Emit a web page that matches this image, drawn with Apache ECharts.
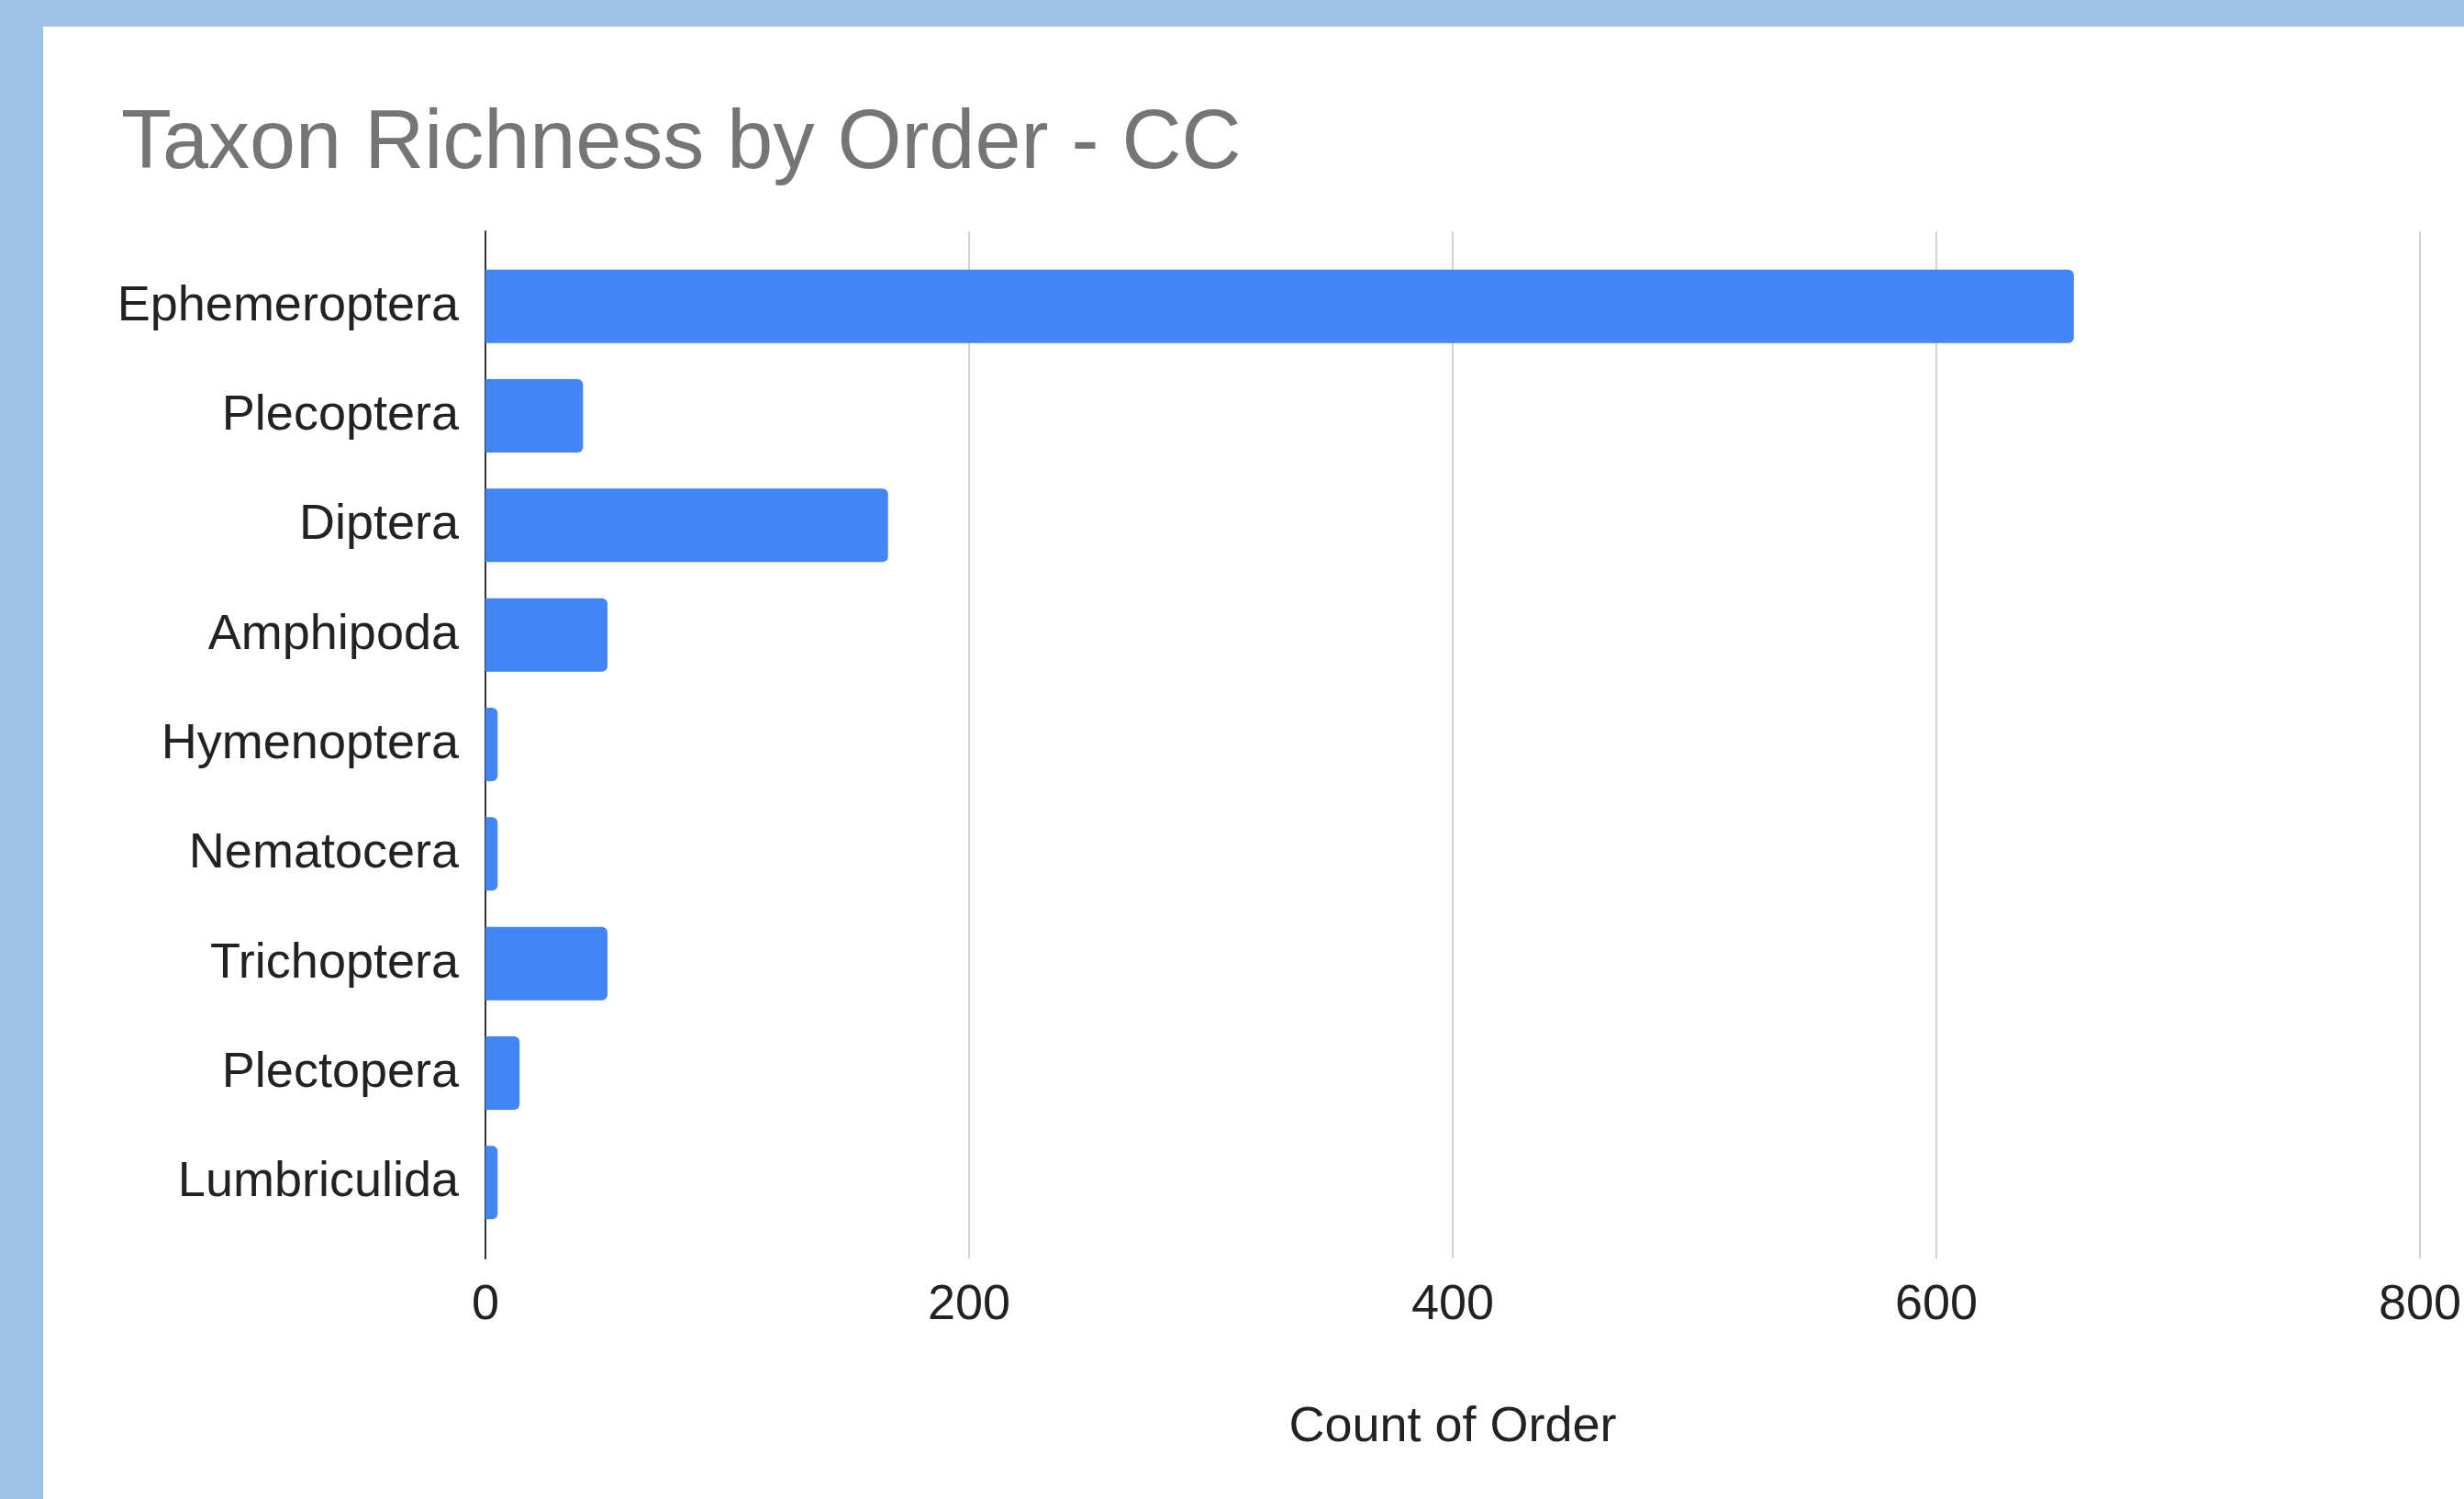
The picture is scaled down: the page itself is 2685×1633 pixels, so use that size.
<!DOCTYPE html>
<html>
<head>
<meta charset="utf-8">
<script src="https://cdn.jsdelivr.net/npm/echarts@6/dist/echarts.min.js"></script>
<style>
  html, body { margin: 0; padding: 0; width: 2685px; height: 1633px; overflow: hidden; background: #9fc3e6; }
  #panel { position: absolute; left: 47px; top: 29px; right: 0; bottom: 0; background: #ffffff; }
  #chart { position: absolute; left: 0; top: 0; width: 2685px; height: 1633px; }
</style>
</head>
<body>
<div id="panel"></div>
<div id="chart"></div>
<script>
const titleText = 'Taxon Richness by Order - CC';
const axisTitle = 'Count of Order';
const categories = ['Ephemeroptera', 'Plecoptera', 'Diptera', 'Amphipoda', 'Hymenoptera', 'Nematocera', 'Trichoptera', 'Plectopera', 'Lumbriculida'];
const counts = [651, 40, 165, 50, 5, 5, 50, 14, 5];
const xMin = 0;
const xMax = 800;
const xStep = 200;

const FONT = '"Liberation Sans", Arial, Helvetica, sans-serif';
const chart = echarts.init(document.getElementById('chart'), null, { renderer: 'canvas', width: 2685, height: 1633 });

chart.setOption({
  backgroundColor: 'transparent',
  animation: false,
  title: {
    text: titleText,
    left: 127,
    top: 108,
    textStyle: { fontFamily: FONT, fontSize: 90, fontWeight: 'normal', color: '#757575' }
  },
  grid: [
    { left: 529, width: 2127, top: 252, height: 1119, containLabel: false },
    { left: 529, width: 2127, top: 274, height: 1074, containLabel: false }
  ],
  xAxis: [
    {
      type: 'value', gridIndex: 0, min: xMin, max: xMax, interval: xStep,
      name: axisTitle, nameLocation: 'middle', nameGap: 157,
      nameTextStyle: { fontFamily: FONT, fontSize: 54, color: '#222222' },
      axisLine: { show: false }, axisTick: { show: false },
      axisLabel: { fontFamily: FONT, fontSize: 54, color: '#222222', margin: 24 },
      splitLine: { show: true, lineStyle: { color: '#d3d3d3', width: 2 } }
    },
    {
      type: 'value', gridIndex: 1, min: xMin, max: xMax, interval: xStep,
      show: false, splitLine: { show: false }
    }
  ],
  yAxis: [
    {
      type: 'value', gridIndex: 0, min: 0, max: 1,
      axisLine: { show: true, lineStyle: { color: '#333333', width: 2 } },
      axisTick: { show: false }, axisLabel: { show: false }, splitLine: { show: false }
    },
    {
      type: 'category', gridIndex: 1, data: categories, inverse: true,
      axisLine: { show: false }, axisTick: { show: false },
      axisLabel: { fontFamily: FONT, fontSize: 54, color: '#222222', margin: 29, padding: [6, 0, 0, 0] },
      splitLine: { show: false }
    }
  ],
  series: [
    {
      type: 'bar', xAxisIndex: 1, yAxisIndex: 1,
      data: counts,
      barCategoryGap: '33%',
      itemStyle: { color: '#4285f4', borderRadius: [0, 6, 6, 0] },
      z: 3
    }
  ]
});
</script>
</body>
</html>
